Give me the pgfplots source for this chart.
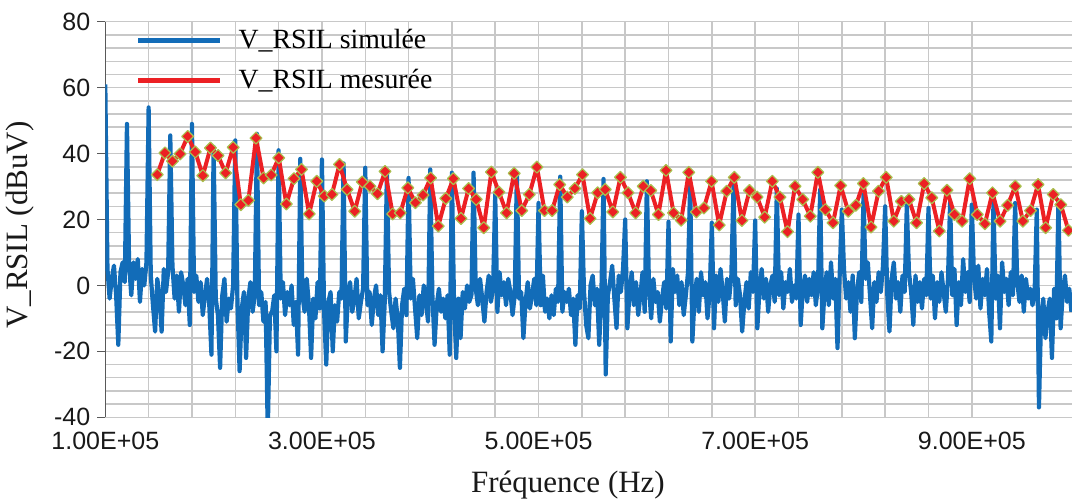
\documentclass[border=0pt]{standalone}
\usepackage{pgfplots}
\pgfplotsset{compat=1.18}
\usepackage{pgfplotstable}
\usepackage{fontspec}
\setmainfont{Liberation Serif}
\newfontfamily\tickfont{Liberation Sans}
\definecolor{simblue}{RGB}{18,108,184}
\definecolor{mesred}{RGB}{236,32,36}
\definecolor{mkedge}{RGB}{170,192,80}
\definecolor{gridgray}{RGB}{200,200,200}

% V_RSIL simulee : one value every 2 kHz from 100 kHz
\pgfplotstableread[row sep=\\]{
y\\
61\\
5\\ -4\\ 2\\ 6\\ -3\\ -18\\ 4\\ 7\\ 1\\
49\\
6\\ -3\\ 7\\ 2\\ 8\\ -5\\ 5\\ 0\\ 7\\
54\\
3\\ -6\\ -14\\ 2\\ -3\\ -14\\ 5\\ -2\\ 4\\
45.5\\
6\\ -4\\ 3\\ -8\\ 4\\ 0\\ -6\\ 2\\ -12\\
49\\
-2\\ 3\\ -5\\ 1\\ -9\\ -3\\ 2\\ -6\\ -21\\
42\\
-4\\ -9\\ -25\\ -3\\ 2\\ -11\\ -4\\ -7\\ 0\\
44\\
-5\\ -26\\ -7\\ -2\\ -22\\ -4\\ 1\\ -8\\ -3\\
46\\
-6\\ -2\\ -11\\ -5\\ -45\\ -9\\ -8\\ -3\\ -20\\
41\\
-4\\ 1\\ -9\\ -2\\ -6\\ 0\\ -12\\ -5\\ -21\\
38.4\\
-3\\ -8\\ 2\\ -6\\ -22\\ -4\\ -10\\ 1\\ -7\\
38.2\\
-8\\ -24\\ -5\\ -2\\ -20\\ -6\\ -11\\ -2\\ -4\\
37\\
-17\\ -3\\ 1\\ -8\\ -4\\ 2\\ -10\\ -5\\ -1\\
35.7\\
-6\\ -2\\ -12\\ -4\\ 0\\ -9\\ -3\\ -20\\ -5\\
35\\
-2\\ -8\\ -13\\ -4\\ -10\\ -25\\ -6\\ -1\\ -9\\
32.6\\
-4\\ 2\\ -7\\ -16\\ -3\\ -9\\ 0\\ -5\\ -11\\
35.2\\
-3\\ -18\\ -6\\ -1\\ -8\\ -4\\ -10\\ -3\\ -21\\
34.2\\
-6\\ -22\\ -4\\ -16\\ -2\\ -7\\ 0\\ -5\\ -3\\
34.2\\
-1\\ -6\\ 2\\ -4\\ -11\\ -2\\ 3\\ -5\\ -1\\
27.6\\
-8\\ 4\\ -3\\ 1\\ -6\\ 2\\ -2\\ -9\\ -3\\
34\\
-4\\ -2\\ -16\\ -5\\ 1\\ -7\\ -3\\ 2\\ -6\\
25\\
-6\\ 3\\ -8\\ -4\\ -10\\ -3\\ -9\\ -1\\ -5\\
33\\
-8\\ -2\\ -5\\ -1\\ -9\\ -4\\ -18\\ -3\\ -7\\
22.5\\
-2\\ -12\\ -16\\ 0\\ 3\\ -6\\ -1\\ -18\\ -3\\
32.3\\
-27\\ -3\\ 1\\ 6\\ -4\\ -13\\ 3\\ -2\\ 5\\
20\\
-13\\ -2\\ 4\\ -6\\ 1\\ -9\\ -3\\ 4\\ -8\\
31.6\\
-1\\ -10\\ 2\\ -5\\ -2\\ -11\\ -4\\ 1\\ -7\\
19.3\\
-17\\ 5\\ -2\\ 3\\ -6\\ 1\\ -9\\ -3\\ 4\\
31.1\\
-17\\ -4\\ 2\\ -8\\ 4\\ -3\\ 1\\ -10\\ -2\\
19\\
-13\\ 3\\ -5\\ 5\\ -2\\ -11\\ 2\\ -4\\ 3\\
30.3\\
-6\\ 2\\ -3\\ -14\\ -5\\ 1\\ -7\\ 4\\ -2\\
19.7\\
-13\\ -1\\ 5\\ -4\\ 2\\ -8\\ 0\\ 3\\ -5\\
29.4\\
-3\\ 4\\ -7\\ 1\\ -2\\ 5\\ -5\\ 0\\ -4\\
21.5\\
-12\\ -1\\ 3\\ -5\\ 2\\ -3\\ 4\\ -6\\ 0\\
29.1\\
-13\\ -2\\ 4\\ -6\\ 7\\ -4\\ 2\\ -19\\ 3\\
23\\
5\\ -4\\ 1\\ -8\\ 3\\ -16\\ -2\\ 4\\ -5\\
27.6\\
2\\ 7\\ -3\\ -13\\ 1\\ -5\\ 4\\ -2\\ 6\\
24\\
-3\\ -14\\ 2\\ 7\\ -4\\ 1\\ -8\\ 3\\ -2\\
24.5\\
4\\ -2\\ -12\\ 3\\ -5\\ 1\\ -7\\ 2\\ -3\\
23.5\\
-4\\ 3\\ -10\\ 1\\ -5\\ 4\\ -2\\ -8\\ 2\\
25.5\\
-3\\ 5\\ -12\\ 1\\ -6\\ 8\\ -2\\ 4\\ -5\\
24.5\\
3\\ -4\\ 6\\ -7\\ 2\\ -3\\ 5\\ -8\\ -17\\
25.5\\
-4\\ 3\\ -13\\ 7\\ -2\\ 2\\ -6\\ 4\\ -3\\
25\\
1\\ -5\\ 3\\ -8\\ 2\\ -4\\ -1\\ -6\\ -2\\
23\\
-37\\ -9\\ -4\\ -16\\ -8\\ -4\\ -22\\ -1\\ -10\\
25.8\\
-13\\ -2\\ 3\\ -5\\ -1\\ -8\\
}\simdata

% V_RSIL mesuree : one value every 7.01 kHz from 148 kHz
\pgfplotstableread[row sep=\\]{
y\\
33.6\\ 40.2\\ 37.7\\ 39.9\\ 45.2\\ 40.5\\ 33.3\\ 41.7\\ 39.4\\ 34.1\\
41.9\\ 24.5\\ 25.8\\ 44.7\\ 32.6\\ 33.5\\ 38.7\\ 24.7\\ 32.4\\ 35.2\\
21.7\\ 31.6\\ 27.1\\ 27.6\\ 36.7\\ 29.1\\ 22.5\\ 31.4\\ 30.1\\ 27.8\\
34.6\\ 21.7\\ 22.0\\ 29.6\\ 25.1\\ 27.4\\ 32.6\\ 18.0\\ 26.4\\ 32.4\\
20.3\\ 29.4\\ 26.1\\ 17.5\\ 34.4\\ 28.3\\ 22.0\\ 34.0\\ 22.7\\ 27.6\\
35.9\\ 22.7\\ 22.7\\ 30.6\\ 26.8\\ 29.4\\ 33.6\\ 20.3\\ 28.1\\ 29.1\\
22.3\\ 32.8\\ 28.1\\ 22.0\\ 30.1\\ 28.8\\ 21.5\\ 34.9\\ 22.0\\ 19.8\\
34.3\\ 22.3\\ 23.5\\ 31.6\\ 18.3\\ 28.6\\ 32.8\\ 19.7\\ 28.8\\ 26.8\\
20.7\\ 31.6\\ 26.8\\ 16.3\\ 30.1\\ 26.1\\ 21.0\\ 34.3\\ 23.0\\ 19.0\\
30.3\\ 22.5\\ 24.3\\ 30.9\\ 17.7\\ 28.6\\ 32.8\\ 19.5\\ 25.5\\ 26.1\\
19.0\\ 30.9\\ 26.6\\ 16.5\\ 28.9\\ 21.5\\ 19.5\\ 32.4\\ 21.5\\ 18.7\\
28.1\\ 19.5\\ 24.3\\ 30.1\\ 19.5\\ 22.7\\ 30.6\\ 17.5\\ 27.6\\ 24.5\\
16.7\\
}\mesdata

\begin{document}
\begin{tikzpicture}
\begin{axis}[
  at={(0,0)}, anchor=south west,
  scale only axis, width=483.35pt, height=197.8pt,
  xmin=100000, xmax=992500, ymin=-40, ymax=80,
  xtick={100000,300000,500000,700000,900000},
  xticklabels={1.00E+05,3.00E+05,5.00E+05,7.00E+05,9.00E+05},
  minor x tick num=4,
  ytick={-40,-20,0,20,40,60,80},
  yticklabels={-40,-20,0,20,40,60,80},
  minor y tick num=4,
  grid=both,
  major grid style={draw=gridgray, line width=0.75pt},
  minor grid style={draw=gridgray, line width=0.75pt},
  axis x line*=bottom, axis y line*=left,
  x axis line style={draw=gridgray, line width=0.75pt, -},
  y axis line style={draw=black!65, line width=0.75pt, -},
  ytick style={draw=black!65, line width=0.75pt},
  xtick style={draw=none},
  major tick length=4pt, minor tick length=0pt,
  tick align=outside,
  ticklabel style={font=\tickfont\fontsize{12.5}{14}\selectfont, text=black!90},
  scaled x ticks=false,
  xlabel={Fréquence (Hz)}, ylabel={V\_RSIL (dBuV)},
  label style={font=\fontsize{15.5}{18}\selectfont, text=black!90},
  xlabel style={at={([yshift=-33.85pt]axis description cs:0.4786,0)}, anchor=center},
  ylabel style={at={([xshift=-42.65pt]axis description cs:0,0.486)}, anchor=center},
  legend style={draw=none, fill=none, at={(axis description cs:0.025,0.997)}, anchor=north west,
    font=\fontsize{13.9}{16}\selectfont, row sep=6.8pt, nodes={inner sep=1pt},
    /tikz/every odd column/.append style={column sep=7pt}},
  legend cell align=left,
  legend image code/.code={\draw[#1, line width=2.4pt] (0pt,0pt) -- (41pt,0pt);},
]
\addplot[simblue, line width=2.1pt, line join=round, no markers]
  table[x expr=100000+2000*\coordindex, y=y] {\simdata};
\addlegendentry{V\_RSIL simulée}
\addplot[mesred, line width=2pt, line join=round, mark=square*, mark size=2.1pt,
  mark options={rotate=45, fill=mesred, draw=mkedge, line width=0.6pt}]
  table[x expr=148000+7010*\coordindex, y=y] {\mesdata};
\addlegendentry{V\_RSIL mesurée}
\end{axis}
\pgfresetboundingbox
\path[use as bounding box] (-52.65pt,-42.35pt) rectangle (483.35pt,208.65pt);
\end{tikzpicture}
\end{document}
